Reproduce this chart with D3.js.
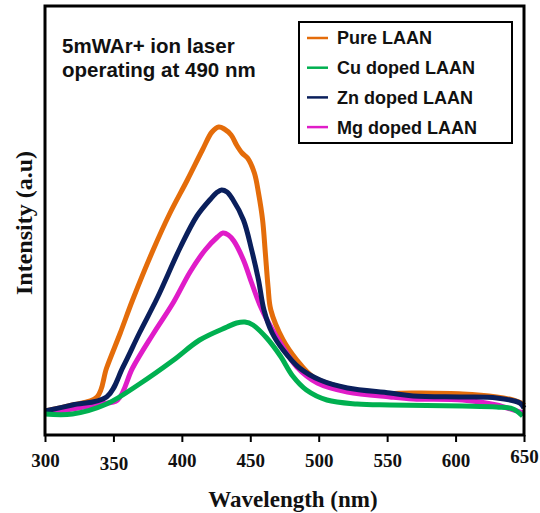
<!DOCTYPE html>
<html lang="en">
<head>
<meta charset="UTF-8">
<title>Photoluminescence spectra of LAAN</title>
<script src="https://d3js.org/d3.v7.min.js"></script>
<style>
    body { margin: 0; background: #fff; }
    .tick-label { font-family: "Liberation Serif", "Times New Roman", serif; font-weight: bold; font-size: 19px; }
    .axis-title { font-family: "Liberation Serif", "Times New Roman", serif; font-weight: bold; }
    .note, .legend text { font-family: "Liberation Sans", Arial, sans-serif; font-weight: bold; }
</style>
</head>
<body>
<div id="chart"></div>
<script>
// wavelength (nm) / intensity (a.u.)
const pureWl = [300, 320, 338, 345, 355, 364, 379, 391, 404, 415, 422, 427, 431, 436, 440, 444, 448, 453, 456, 459, 461, 463, 465, 474, 484, 496, 516, 532, 569, 605, 630, 642, 649, 650];
const pureI  = [24, 30, 38, 67, 102, 135, 185, 221, 255, 285, 303, 308, 306, 300, 290, 282, 277, 262, 242, 215, 182, 148, 125, 95, 75, 58, 48, 42, 42, 41, 38, 35, 32, 33];

const cuWl = [300, 320, 345, 369, 394, 413, 433, 440, 446, 452, 462, 472, 481, 491, 506, 528, 552, 605, 630, 642, 649];
const cuI  = [21, 21, 31, 51, 75, 95, 108, 112, 113, 110, 97, 79, 59, 45, 35, 31, 30, 29, 28, 26, 19];

const znWl = [300, 320, 345, 357, 369, 382, 399, 411, 421, 426, 429, 433, 437, 445, 451, 456, 460, 466, 474, 486, 501, 521, 552, 569, 605, 630, 647, 650];
const znI  = [24, 30, 38, 68, 102, 137, 188, 219, 236, 243, 245, 243, 236, 215, 185, 155, 125, 102, 85, 67, 55, 47, 42, 39, 38, 37, 32, 27];

const mgWl = [300, 320, 340, 353, 364, 379, 394, 406, 417, 426, 430, 434, 438, 445, 451, 457, 463, 472, 484, 499, 521, 552, 569, 605, 630, 647, 650];
const mgI  = [22, 26, 31, 35, 67, 101, 133, 163, 185, 198, 202, 200, 194, 175, 152, 130, 113, 92, 68, 52, 43, 38, 36, 35, 30, 23, 22];

const seriesNames = ["Pure LAAN", "Cu doped LAAN", "Zn doped LAAN", "Mg doped LAAN"];
const xTicks = [300, 350, 400, 450, 500, 550, 600, 650];

const colors = {
    "Pure LAAN": "#E46C0A",
    "Cu doped LAAN": "#00B050",
    "Zn doped LAAN": "#0A1F5C",
    "Mg doped LAAN": "#E01CC8"
};

const series = [
    { name: "Pure LAAN", wl: pureWl, val: pureI },
    { name: "Mg doped LAAN", wl: mgWl, val: mgI },
    { name: "Zn doped LAAN", wl: znWl, val: znI },
    { name: "Cu doped LAAN", wl: cuWl, val: cuI }
];

const W = 540, H = 513;
const plot = { left: 45, right: 524, top: 6, bottom: 435 };

const svg = d3.select("#chart").append("svg")
    .attr("width", W)
    .attr("height", H);

const x = d3.scaleLinear().domain([300, 650]).range([plot.left, plot.right]);
const y = d3.scaleLinear().domain([0, 429]).range([plot.bottom, plot.top]);

// curves
const line = d3.line()
    .x(d => x(d[0]))
    .y(d => y(d[1]))
    .curve(d3.curveCatmullRom.alpha(0.5));

svg.selectAll(".spectrum")
    .data(series)
    .enter()
    .append("path")
    .attr("class", "spectrum")
    .attr("fill", "none")
    .attr("stroke", d => colors[d.name])
    .attr("stroke-width", 5)
    .attr("stroke-linejoin", "round")
    .attr("d", d => line(d.wl.map((w, i) => [w, d.val[i]])));

// frame
svg.append("rect")
    .attr("x", plot.left)
    .attr("y", plot.top)
    .attr("width", plot.right - plot.left)
    .attr("height", plot.bottom - plot.top)
    .attr("fill", "none")
    .attr("stroke", "#000")
    .attr("stroke-width", 3);

// x axis ticks
const xAxis = svg.append("g")
    .attr("transform", `translate(0,${plot.bottom})`)
    .call(d3.axisBottom(x).tickValues(xTicks).tickSize(7).tickFormat(d3.format("d")));
xAxis.select(".domain").remove();
xAxis.selectAll(".tick line").attr("stroke", "#000").attr("stroke-width", 2);
// a couple of labels sit slightly off in the original figure
const labelShift = { 350: 3, 650: -4 };
xAxis.selectAll(".tick text")
    .attr("class", "tick-label")
    .attr("fill", "#111")
    .attr("font-size", null)
    .attr("font-family", null)
    .attr("y", d => 19 + (labelShift[d] || 0))
    .attr("dy", "0.71em");

svg.append("text")
    .attr("class", "axis-title")
    .attr("x", 293)
    .attr("y", 507)
    .attr("text-anchor", "middle")
    .attr("font-size", 23)
    .attr("fill", "#111")
    .text("Wavelength (nm)");

svg.append("text")
    .attr("class", "axis-title")
    .attr("transform", "translate(32,223) rotate(-90)")
    .attr("text-anchor", "middle")
    .attr("font-size", 24)
    .attr("fill", "#111")
    .text("Intensity (a.u)");

// annotation
const note = svg.append("text")
    .attr("class", "note")
    .attr("font-size", 20.5)
    .attr("fill", "#111");
note.append("tspan").attr("x", 62).attr("y", 53).text("5mWAr+ ion laser");
note.append("tspan").attr("x", 62).attr("y", 77).text("operating at 490 nm");

// legend
const legend = svg.append("g").attr("class", "legend");
legend.append("rect")
    .attr("x", 299)
    .attr("y", 22)
    .attr("width", 213)
    .attr("height", 121)
    .attr("fill", "#fff")
    .attr("stroke", "#000")
    .attr("stroke-width", 2);

const item = legend.selectAll(".item")
    .data(seriesNames)
    .enter()
    .append("g")
    .attr("class", "item")
    .attr("transform", (d, i) => `translate(0,${38 + i * 29.7})`);

item.append("line")
    .attr("x1", 307).attr("x2", 328)
    .attr("y1", 0).attr("y2", 0)
    .attr("stroke", d => colors[d])
    .attr("stroke-width", 2.5);

item.append("text")
    .attr("x", 337)
    .attr("y", 0)
    .attr("dy", "0.36em")
    .attr("font-size", 18)
    .attr("fill", "#111")
    .text(d => d);
</script>
</body>
</html>
